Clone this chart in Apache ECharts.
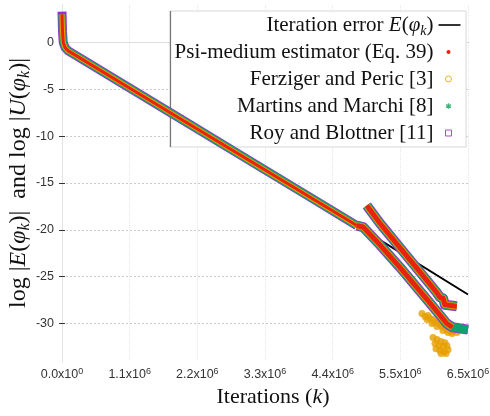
<!DOCTYPE html>
<html>
<head>
<meta charset="utf-8">
<script src="https://cdn.jsdelivr.net/npm/echarts@6/dist/echarts.min.js"></script>
<style>html,body{margin:0;padding:0;background:#fff}#c{width:490px;height:416px}</style>
</head>
<body>
<div id="c"></div>
<script>
// ---- data ----
const xMax = 6.5e6;
const xTickMant = ['0.0', '1.1', '2.2', '3.3', '4.4', '5.5', '6.5'];
const xTickExp = ['0', '6', '6', '6', '6', '6', '6'];
const yTickValues = [-30, -25, -20, -15, -10, -5, 0];

// iteration error E (black line)
const errIter = [0, 8e3, 2e4, 5e4, 1e5, 2e5, 1e6, 2e6, 3e6, 4e6, 4.72e6, 6.5e6];
const errVal  = [3.0, 1.2, 0.0, -0.55, -0.9, -1.3, -4.53, -8.56, -12.6, -16.63, -19.54, -26.9];

// estimators: common main path (coincides with E until ~4.7e6)
const estMainIter = [0, 8e3, 2e4, 5e4, 1e5, 2e5, 1e6, 2e6, 3e6, 4e6, 4.72e6];
const estMainVal  = [3.0, 1.2, 0.0, -0.55, -0.9, -1.3, -4.53, -8.56, -12.6, -16.63, -19.54];
const royHeadVal = 3.3;

// lower branch
const estLowIter = [4.72e6, 4.82e6, 5.09e6, 5.41e6, 5.89e6, 6.10e6, 6.16e6, 6.25e6, 6.5e6];
const estLowVal  = [-19.54, -19.7, -21.6, -24.0, -27.8, -29.5, -30.0, -30.4, -30.65];
// upper branch
const estUpIter = [4.88e6, 5.09e6, 5.41e6, 5.89e6, 6.00e6, 6.05e6, 6.10e6, 6.13e6, 6.32e6];
const estUpVal  = [-17.4, -19.3, -21.9, -25.8, -26.7, -27.2, -27.3, -28.0, -28.15];

// Ferziger & Peric scattered points near the end
const ferzExtraIter = [5.7636e6, 5.8116e6, 5.8597e6, 5.8917e6, 5.9397e6, 5.9717e6, 6.0198e6, 6.0518e6, 6.0838e6, 6.1318e6,
  6.1639e6, 6.2119e6, 6.2599e6, 6.3240e6, 5.8437e6, 5.9237e6, 6.0038e6, 6.0998e6, 6.1799e6, 6.2439e6,
  5.940e6, 6.004e6, 6.068e6, 6.132e6, 5.972e6, 6.036e6, 6.100e6, 6.164e6, 5.988e6, 6.052e6, 6.116e6, 6.180e6, 6.068e6, 6.148e6];
const ferzExtraVal = [-28.93, -29.25, -29.14, -29.46, -29.57, -29.89, -29.79, -30.11, -30.32, -30.43,
  -30.64, -30.75, -30.86, -30.96, -29.57, -30.0, -30.32, -30.75, -30.96, -31.07,
  -31.5, -31.71, -31.93, -32.04, -32.14, -32.36, -32.46, -32.36, -32.68, -32.89, -33.0, -32.79, -33.21, -33.21];

const names = {
  err: 'Iteration error E(φk)',
  psi: 'Psi-medium estimator (Eq. 39)',
  ferz: 'Ferziger and Peric [3]',
  mart: 'Martins and Marchi [8]',
  roy: 'Roy and Blottner [11]'
};

// ---- styles ----
const C = { err: '#000000', psi: '#E8220E', ferz: '#E69F00', mart: '#12A070', roy: '#9A2FD0' };
const serif = 'Liberation Serif, Times New Roman, serif';
const sans = 'Liberation Sans, Arial, sans-serif';

function pairs(xs, ys) { return xs.map((x, i) => [x, ys[i]]); }
function line(name, data, color, width) {
  return { type: 'line', name, data, symbol: 'none', silent: true, animation: false,
    lineStyle: { color, width, join: 'round', cap: 'butt' }, itemStyle: { color } };
}

const series = [];
series.push(line(names.err, pairs(errIter, errVal), C.err, 2));
series.push({ type: 'scatter', name: names.ferz, data: pairs(ferzExtraIter, ferzExtraVal),
  symbol: 'circle', symbolSize: 7, itemStyle: { color: C.ferz }, silent: true, animation: false });

const estimators = [
  { key: 'roy', mainW: 9, brW: 10, lowEnd: estLowIter.length },
  { key: 'mart', mainW: 7.5, brW: 8.5, lowEnd: estLowIter.length },
  { key: 'ferz', mainW: 5, brW: 6.5, lowEnd: estLowIter.length - 1 },
  { key: 'psi', mainW: 3, brW: 5, lowEnd: estLowIter.length - 1 }
];
estimators.forEach(e => {
  const mainVal = estMainVal.slice();
  if (e.key === 'roy') mainVal[0] = royHeadVal;
  series.push(line(names[e.key], pairs(estMainIter, mainVal), C[e.key], e.mainW));
  series.push(line(names[e.key], pairs(estLowIter.slice(0, e.lowEnd), estLowVal.slice(0, e.lowEnd)), C[e.key], e.brW));
  series.push(line(names[e.key], pairs(estUpIter, estUpVal), C[e.key], e.brW));
});

const BB = 'M0,0M24,10';
const legendData = [
  { name: names.err, icon: 'path://' + BB + 'M0,4.2h22v1.6h-22z', itemStyle: { color: '#000', borderWidth: 0 } },
  { name: names.psi, icon: 'path://' + BB + 'M8,5a2,2 0 1,0 4,0a2,2 0 1,0 -4,0z', itemStyle: { color: C.psi, borderWidth: 0 } },
  { name: names.ferz, icon: 'path://' + BB + 'M7,5a3,3 0 1,0 6,0a3,3 0 1,0 -6,0z', itemStyle: { color: 'none', borderColor: C.ferz, borderWidth: 1 } },
  { name: names.mart, icon: 'path://' + BB + 'M10,2.2V7.8M7.6,3.6L12.4,6.4M7.6,6.4L12.4,3.6', itemStyle: { color: 'none', borderColor: '#3DB87A', borderWidth: 1.3 } },
  { name: names.roy, icon: 'path://' + BB + 'M7,2h6v6h-6z', itemStyle: { color: 'none', borderColor: '#B548C8', borderWidth: 1 } }
];

const xTickValues = xTickMant.map((_, i) => i * xMax / (xTickMant.length - 1));

const option = {
  animation: false,
  backgroundColor: '#fff',
  grid: { left: 62, right: 22, top: 5, bottom: 55, containLabel: false, outerBoundsMode: 'none' },
  xAxis: [{
    type: 'value', min: 0, max: xMax,
    name: 'Iterations ({i|k})', nameLocation: 'middle', nameGap: 25, nameMoveOverlap: false,
    nameTextStyle: { fontFamily: serif, fontSize: 22, color: '#111', padding: [0, 0, 0, 16],
      rich: { i: { fontFamily: serif, fontStyle: 'italic', fontSize: 22, color: '#111' } } },
    axisLine: { show: true, lineStyle: { color: '#999', width: 1 } },
    axisTick: { show: false, customValues: xTickValues },
    axisLabel: { customValues: xTickValues, margin: 6,
      formatter: function (v) { const i = Math.round(v / (xMax / (xTickMant.length - 1))); return '{b|' + xTickMant[i] + 'x10}{s|' + xTickExp[i] + '}'; },
      rich: { b: { fontFamily: sans, fontSize: 12.5, color: '#333', lineHeight: 16 },
              s: { fontFamily: sans, fontSize: 9, color: '#333', verticalAlign: 'top', lineHeight: 10 } } },
    splitLine: { show: true, lineStyle: { color: '#e6e6e6', width: 1, type: 'dotted' } }
  }, {
    type: 'value', min: 0, max: xMax, position: 'top',
    axisLine: { show: true, lineStyle: { color: '#ddd' } }, axisTick: { show: false }, axisLabel: { show: false }, splitLine: { show: false }
  }],
  yAxis: [{
    type: 'value', min: -34, max: 4,
    name: 'log |{i|E}({i|φ}{s|k})|  and log |{i|U}({i|φ}{s|k})|',
    nameLocation: 'middle', nameRotate: 90, nameGap: 29, nameMoveOverlap: false,
    nameTextStyle: { fontFamily: serif, fontSize: 24, color: '#111', lineHeight: 28,
      rich: { i: { fontFamily: serif, fontStyle: 'italic', fontSize: 24, color: '#111', lineHeight: 28 },
              s: { fontFamily: serif, fontStyle: 'italic', fontSize: 16, color: '#111', verticalAlign: 'bottom', lineHeight: 12 } } },
    axisLine: { show: true, lineStyle: { color: '#999', width: 1 } },
    axisTick: { show: true, inside: true, length: 3, customValues: yTickValues, lineStyle: { color: '#333' } },
    axisLabel: { customValues: yTickValues, fontFamily: sans, fontSize: 12.5, color: '#333', margin: 8 },
    splitLine: { show: true, lineStyle: { color: '#cccccc', width: 1, type: [2, 2] } }
  }, {
    type: 'value', min: -34, max: 4, position: 'right',
    axisLine: { show: true, lineStyle: { color: '#e4e4e4' } },
    axisTick: { show: true, inside: true, length: 3, customValues: yTickValues, lineStyle: { color: '#333' } },
    axisLabel: { show: false }, splitLine: { show: false }
  }],
  legend: {
    orient: 'vertical', right: 25, top: 11.5, align: 'right', itemWidth: 24, itemHeight: 10, itemGap: 0,
    padding: 0, z: 10, selectedMode: false, symbolKeepAspect: true,
    data: legendData,
    formatter: function (n) { return n === names.err ? 'Iteration error {i|E}({i|φ}{s|k})' : n; },
    textStyle: { fontFamily: serif, fontSize: 21, color: '#111', lineHeight: 27,
      rich: { i: { fontFamily: serif, fontStyle: 'italic', fontSize: 21, color: '#111', lineHeight: 27 },
              s: { fontFamily: serif, fontStyle: 'italic', fontSize: 14, color: '#111', verticalAlign: 'bottom', lineHeight: 12 } } }
  },
  graphic: [
    { type: 'rect', z: 1, silent: true, shape: { x: 170, y: 11, width: 296, height: 136 }, style: { fill: '#fff', stroke: '#d8d8d8', lineWidth: 1 } },
    { type: 'line', z: 1, silent: true, shape: { x1: 170.5, y1: 11, x2: 170.5, y2: 147 }, style: { stroke: '#777', lineWidth: 1.2 } }
  ],
  series: series
};

const chart = echarts.init(document.getElementById('c'), null, { renderer: 'canvas' });
chart.setOption(option);
</script>
</body>
</html>
